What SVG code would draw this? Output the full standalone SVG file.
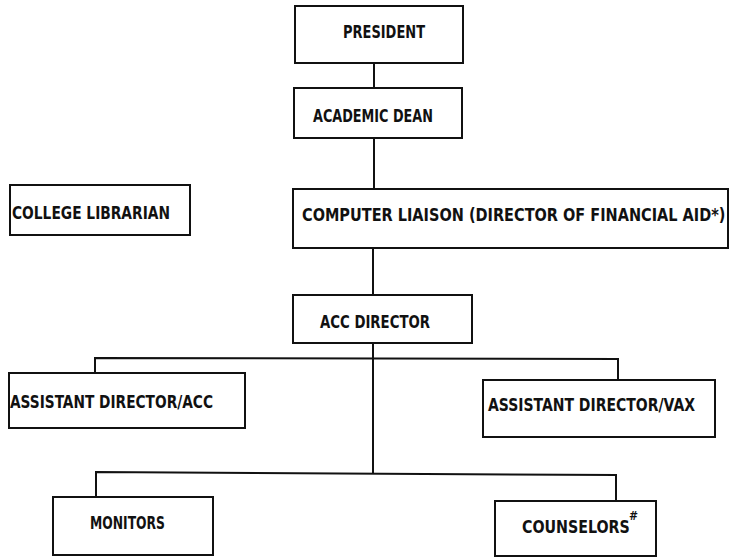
<svg xmlns="http://www.w3.org/2000/svg" width="730" height="558" viewBox="0 0 730 558">
  <style>
    .box { fill: #ffffff; stroke: #111111; stroke-width: 2; }
    .wire { fill: none; stroke: #111111; stroke-width: 2; }
    .lbl { font-family: "DejaVu Sans Condensed", "Liberation Sans Narrow", "Liberation Sans", sans-serif; font-size: 18px; font-weight: bold; fill: #111111; }
    .sup { font-family: "DejaVu Sans Condensed", "Liberation Sans", sans-serif; font-size: 12px; font-weight: bold; fill: #111111; }
  </style>
  <rect width="730" height="558" fill="#ffffff"/>

  <!-- reporting lines -->
  <g id="connectors">
    <line class="wire" x1="374" y1="63" x2="374" y2="88"/>
    <line class="wire" x1="374" y1="138" x2="374" y2="189"/>
    <line class="wire" x1="373" y1="248" x2="373" y2="295"/>
    <line class="wire" x1="373" y1="343" x2="373" y2="473"/>
    <polyline class="wire" points="95,373 95,358 618,359 618,380"/>
    <polyline class="wire" points="96,497 96,472 616,475 616,501"/>
  </g>

  <g id="president">
    <rect class="box" x="295" y="6" width="168" height="57"/>
    <text class="lbl" x="343" y="38" textLength="82" lengthAdjust="spacingAndGlyphs">PRESIDENT</text>
  </g>

  <g id="academic-dean">
    <rect class="box" x="294" y="88" width="168" height="50"/>
    <text class="lbl" x="313" y="122" textLength="120" lengthAdjust="spacingAndGlyphs">ACADEMIC DEAN</text>
  </g>

  <g id="college-librarian">
    <rect class="box" x="10" y="185" width="180" height="50"/>
    <text class="lbl" x="12" y="219" textLength="158" lengthAdjust="spacingAndGlyphs">COLLEGE LIBRARIAN</text>
  </g>

  <g id="computer-liaison">
    <rect class="box" x="293" y="189" width="435" height="59"/>
    <text class="lbl" transform="translate(302 221) scale(0.895 1)">COMPUTER LIAISON (DIRECTOR OF FINANCIAL AID*)</text>
  </g>

  <g id="acc-director">
    <rect class="box" x="293" y="295" width="179" height="48"/>
    <text class="lbl" x="320" y="328" textLength="110" lengthAdjust="spacingAndGlyphs">ACC DIRECTOR</text>
  </g>

  <g id="assistant-director-acc">
    <rect class="box" x="9" y="373" width="236" height="55"/>
    <text class="lbl" x="10" y="408" textLength="203" lengthAdjust="spacingAndGlyphs">ASSISTANT DIRECTOR/ACC</text>
  </g>

  <g id="assistant-director-vax">
    <rect class="box" x="483" y="380" width="232" height="57"/>
    <text class="lbl" x="488" y="411" textLength="207" lengthAdjust="spacingAndGlyphs">ASSISTANT DIRECTOR/VAX</text>
  </g>

  <g id="monitors">
    <rect class="box" x="53" y="497" width="160" height="58"/>
    <text class="lbl" x="90" y="529" textLength="75" lengthAdjust="spacingAndGlyphs">MONITORS</text>
  </g>

  <g id="counselors">
    <rect class="box" x="495" y="501" width="161" height="55"/>
    <text class="lbl" transform="translate(522 533) scale(0.88 1)">COUNSELORS</text>
    <text class="sup" x="629" y="520">#</text>
  </g>
</svg>
